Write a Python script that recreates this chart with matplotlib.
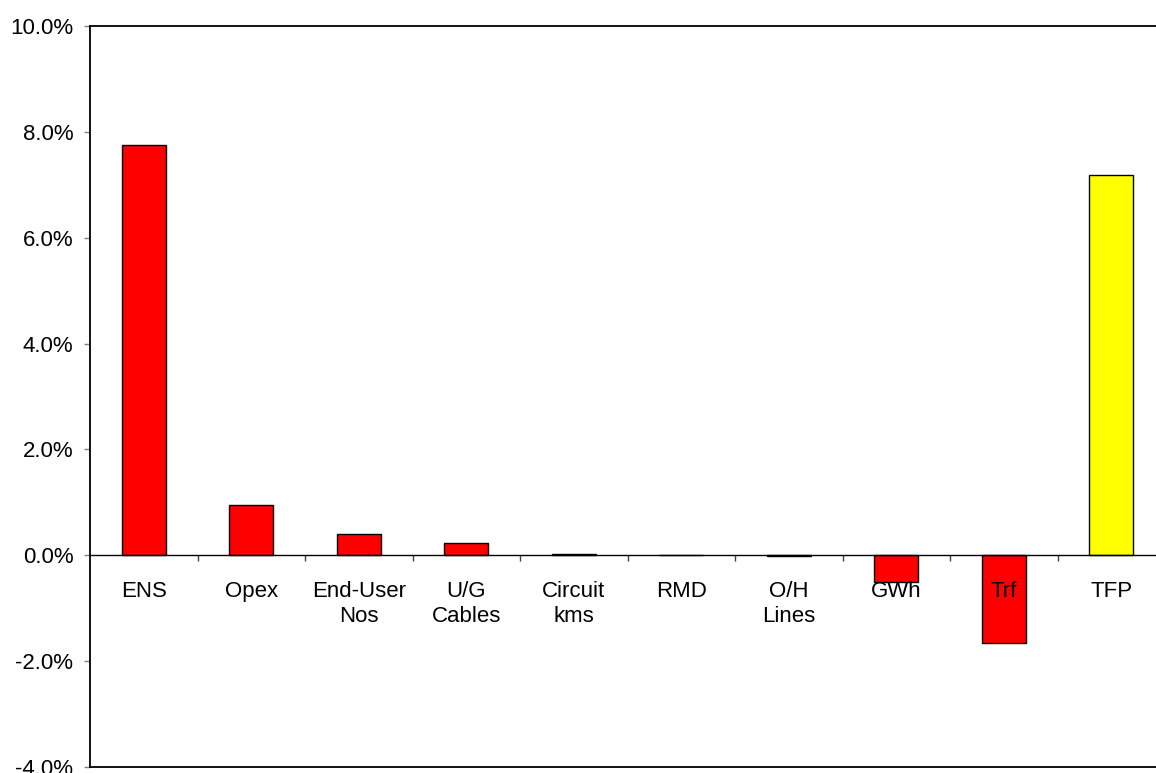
import matplotlib
matplotlib.use("Agg")
import matplotlib.pyplot as plt
from matplotlib.ticker import FuncFormatter, FixedLocator

categories = ["ENS", "Opex", "End-User\nNos", "U/G\nCables", "Circuit\nkms", "RMD",
              "O/H\nLines", "GWh", "Trf", "TFP"]
values = [7.75, 0.95, 0.40, 0.23, 0.02, 0.0, -0.02, -0.51, -1.66, 7.18]
colors = ["#FF0000"] * 9 + ["#FFFF00"]
y_ticks = [-4, -2, 0, 2, 4, 6, 8, 10]

plt.rcParams["font.family"] = ["Liberation Sans", "DejaVu Sans"]

fig = plt.figure(figsize=(11.56, 7.73), dpi=100)
W, H = 1156, 773
left, right, top, bottom = 90, 1165, 26, 767
ax = fig.add_axes([left / W, 1 - bottom / H, (right - left) / W, (bottom - top) / H])

x = list(range(1, len(categories) + 1))
ax.bar(x, values, width=0.41, color=colors, edgecolor="black", linewidth=1.0, zorder=1)

ax.set_xlim(0.5, len(categories) + 0.5)
ax.set_ylim(-4, 10)
ax.set_yticks(y_ticks)
ax.yaxis.set_major_formatter(FuncFormatter(lambda v, p: f"{v:.1f}%"))
ax.tick_params(axis="y", direction="out", length=4.5, width=1, color="#808080",
               labelsize=16, pad=7.5)

# x axis at zero
ax.spines["bottom"].set_position(("data", 0))
ax.spines["bottom"].set_linewidth(1.0)
ax.set_xticks(x)
ax.set_xticklabels(categories, linespacing=1.28)
ax.xaxis.set_minor_locator(FixedLocator([i + 0.5 for i in x[:-1]]))
ax.tick_params(axis="x", which="major", length=0, labelsize=16, pad=18.5)
ax.tick_params(axis="x", which="minor", direction="out", length=4.5, width=1, color="#404040")

for s in ["left", "top"]:
    ax.spines[s].set_linewidth(1.3)
ax.spines["right"].set_visible(False)
# frame bottom border
ax.plot([0, 1], [0, 0], transform=ax.transAxes, color="black", linewidth=1.3, clip_on=False)

fig.savefig("out.png", dpi=100)
